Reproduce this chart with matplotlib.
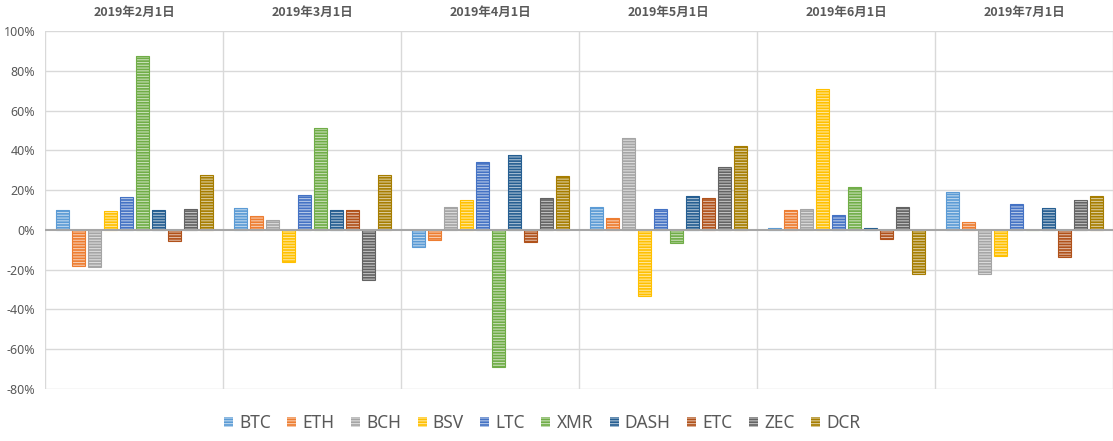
import matplotlib
matplotlib.use("Agg")
import matplotlib.pyplot as plt
import numpy as np
from matplotlib.colors import to_rgb
from matplotlib.patches import Patch

categories = ["2019年2月1日", "2019年3月1日", "2019年4月1日", "2019年5月1日", "2019年6月1日", "2019年7月1日"]
series_names = ["BTC", "ETH", "BCH", "BSV", "LTC", "XMR", "DASH", "ETC", "ZEC", "DCR"]

BTC = [10, 11, -8.5, 11.5, 0.8, 19]
ETH = [-18, 7, -5, 6, 10, 4]
BCH = [-18.5, 5, 11.5, 46, 10.5, -22]
BSV = [9.5, -16, 15, -33, 71, -13]
LTC = [16.5, 17.5, 34, 10.5, 7.5, 13]
XMR = [87.4, 51, -68.8, -6.5, 21.5, 0]
DASH = [10, 10, 37.5, 17, 0.8, 11]
ETC = [-5.5, 10, -6, 16, -4.5, -13.5]
ZEC = [10.5, -25, 16, 31.5, 11.5, 15]
DCR = [27.5, 27.5, 27, 42, -22, 17]

series_values = [BTC, ETH, BCH, BSV, LTC, XMR, DASH, ETC, ZEC, DCR]
colors = ["#5B9BD5", "#ED7D31", "#A5A5A5", "#FFC000", "#4472C4",
          "#70AD47", "#255E91", "#B0511A", "#636363", "#A67D00"]

def tint(c, f=0.6):
    r, g, b = to_rgb(c)
    return (r + (1 - r) * f, g + (1 - g) * f, b + (1 - b) * f)

plt.rcParams['font.family'] = ['Noto Sans', 'Noto Sans CJK SC', 'DejaVu Sans']
plt.rcParams['hatch.linewidth'] = 0.8

fig = plt.figure(figsize=(11.13, 4.41), dpi=100)
ax = fig.add_axes([45/1113, 1 - 389/441, 1 - 45/1113, 358/441])

gw = 178.0
bw = 13 / gw
x = np.arange(len(categories))
HATCH = '------'
for i, (name, vals, c) in enumerate(zip(series_names, series_values, colors)):
    off = (-71.5 + 16 * i) / gw
    ax.bar(x + off, vals, width=bw, color=c, edgecolor=tint(c), linewidth=0,
           hatch=HATCH, zorder=3)
    ax.bar(x + off, vals, width=bw, facecolor='none', edgecolor=c, linewidth=0.8, zorder=4)

ax.set_xlim(-0.5, len(categories) - 0.5)
ax.set_ylim(-80, 100)
ax.set_yticks(np.arange(-80, 101, 20))
ax.set_yticklabels([f"{v}%" for v in range(-80, 101, 20)])
ax.tick_params(axis='y', length=0, pad=7, labelsize=9, labelcolor='#595959')
ax.set_xticks([])

for v in range(-80, 101, 20):
    if v != 0:
        ax.axhline(v, color='#D9D9D9', lw=1, zorder=1)
for b in np.arange(-0.5, len(categories), 1.0):
    ax.axvline(b, color='#D9D9D9', lw=1, zorder=1)
ax.axhline(0, color='#A6A6A6', lw=1.5, zorder=5)

for s in ax.spines.values():
    s.set_visible(False)

for i, cat in enumerate(categories):
    ax.annotate(cat, xy=(i, 1), xycoords=('data', 'axes fraction'),
                xytext=(0, 13), textcoords='offset points', ha='center', va='center',
                fontsize=9, fontweight='bold', color='#595959',
                family=['Noto Sans CJK SC', 'DejaVu Sans'])

handles = [Patch(facecolor=c, edgecolor=tint(c), hatch=HATCH, linewidth=0) for c in colors]
fig.legend(handles, series_names, loc='center', bbox_to_anchor=(542/1113, 1 - 423/441),
           ncol=10, frameon=False, fontsize=12.5, labelcolor='#595959',
           handlelength=0.52, handleheight=0.52, handletextpad=0.35, columnspacing=0.95)

fig.savefig("out.png", dpi=100)
